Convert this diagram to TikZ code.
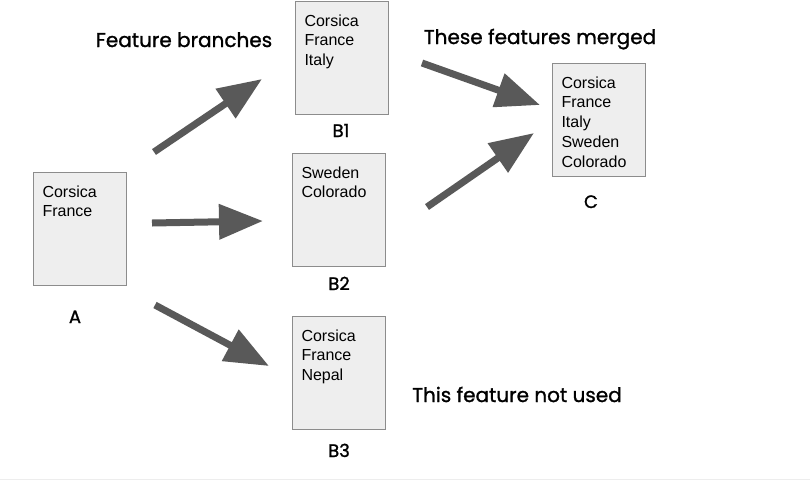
\documentclass[tikz,border=0pt]{standalone}
\usepackage{fontspec}
\setmainfont{Liberation Sans}
\newfontfamily\notefont{Poppins}[FakeBold=1.2]
\usetikzlibrary{arrows.meta}
\definecolor{boxfill}{HTML}{EEEEEE}
\definecolor{boxline}{HTML}{8C8C8C}
\definecolor{arrowgray}{HTML}{595959}
\tikzset{
  listbox/.style={draw=boxline, line width=1pt, fill=boxfill, anchor=north west,
    inner xsep=9pt, inner ysep=13pt, font=\fontsize{16}{19.75}\selectfont},
  notelabel/.style={anchor=base, font=\notefont\fontsize{20}{22}\selectfont},
  namelabel/.style={anchor=base, font=\notefont\fontsize{18}{20}\selectfont},
  fatarrow/.style={draw=arrowgray, line width=7pt, -{Triangle[length=44pt,width=34pt]}},
}
\newcommand{\countries}[1]{\parbox[t][87pt][t]{75pt}{#1}}
\begin{document}
\begin{tikzpicture}[x=1pt,y=-1pt]
        \useasboundingbox (0,0) rectangle (810,480);
        \draw[black!7] (0,479) -- (810,479);
        % feature boxes
        \node[listbox] (A) at (33,172) {\countries{Corsica\\France}};
        \node[listbox] (B1) at (295,1) {\countries{Corsica\\France\\Italy}};
        \node[listbox] (B2) at (292,153) {\countries{Sweden\\Colorado}};
        \node[listbox] (B3) at (292,316) {\countries{Corsica\\France\\Nepal}};
        \node[listbox] (C) at (552,63) {\countries{Corsica\\France\\Italy\\Sweden\\Colorado}};
        % names under the boxes
        \node[namelabel] (A-name) at (75,323) {A};
        \node[namelabel] (B1-name) at (341,137) {B1};
        \node[namelabel] (B2-name) at (339,290) {B2};
        \node[namelabel] (B3-name) at (339,457) {B3};
        \node[namelabel] (C-name) at (591,208) {C};
        % notes
        \node[notelabel] (branch-note) at (184,47) {Feature branches};
        \node[notelabel] (merge-note) at (540,44) {These features merged};
        \node[notelabel] (unused-note) at (517,402) {This feature not used};
        % arrow ends
        \coordinate (a-b1) at (154,152);
        \coordinate (b1-in) at (262,79);
        \coordinate (a-b2) at (152,223);
        \coordinate (b2-in) at (263,221);
        \coordinate (a-b3) at (155,305);
        \coordinate (b3-in) at (269,366);
        \coordinate (b1-out) at (422,63);
        \coordinate (c-in1) at (540,105);
        \coordinate (b2-out) at (427,207);
        \coordinate (c-in2) at (534,133);
        \draw[fatarrow] (a-b1) -- (b1-in);
        \draw[fatarrow] (a-b2) -- (b2-in);
        \draw[fatarrow] (a-b3) -- (b3-in);
        \draw[fatarrow] (b1-out) -- (c-in1);
        \draw[fatarrow] (b2-out) -- (c-in2);
    \end{tikzpicture}
\end{document}
